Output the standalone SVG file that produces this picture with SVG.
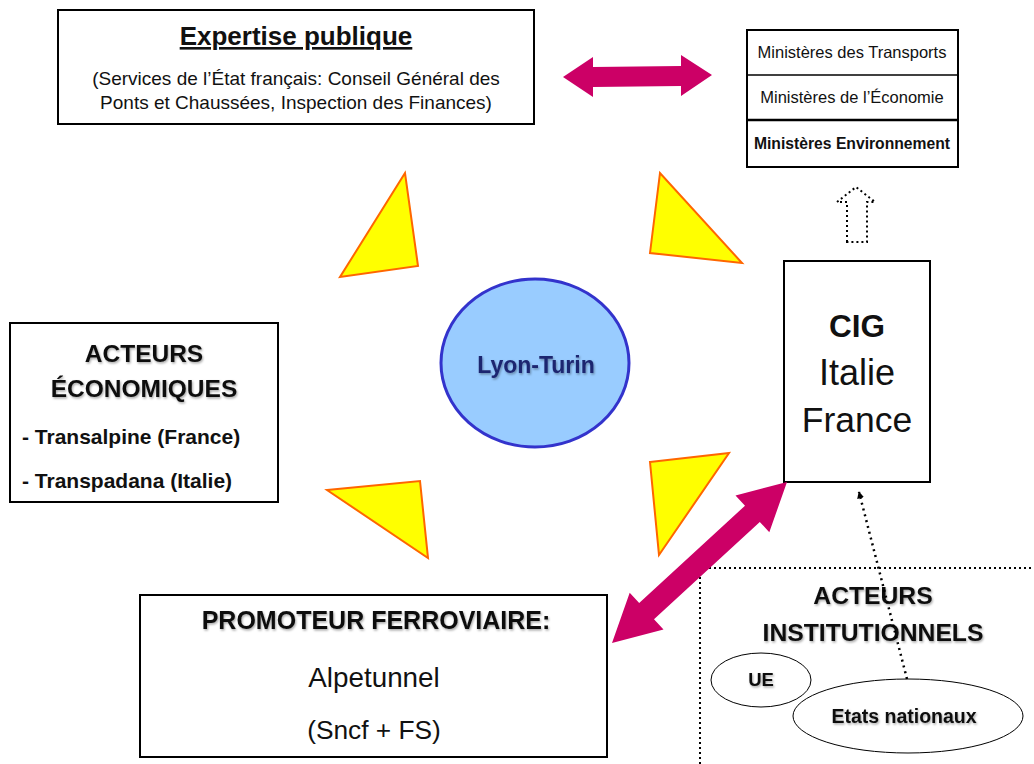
<svg xmlns="http://www.w3.org/2000/svg" width="1034" height="764" viewBox="0 0 1034 764">
<style>
text{font-family:"Liberation Sans",Arial,sans-serif;fill:#111;text-anchor:middle}
.box{fill:#fff;stroke:#000;stroke-width:2}
.b{font-weight:bold}
.sh{filter:url(#shadow)}
.tri{fill:#FFFF00;stroke:#FF6600;stroke-width:2;stroke-linejoin:miter}
.mag{fill:#CC0066;stroke:none}
.dot{fill:none;stroke:#000;stroke-width:2;stroke-dasharray:2 3}
.ell{fill:#fff;stroke:#000;stroke-width:1}
</style>
<defs>
<filter id="shadow" x="-10%" y="-30%" width="120%" height="160%">
<feDropShadow dx="1" dy="1.5" stdDeviation="1" flood-color="#000" flood-opacity="0.35"/>
</filter>
<marker id="ah" viewBox="0 0 10 10" refX="9" refY="5" markerWidth="7" markerHeight="7" markerUnits="userSpaceOnUse" orient="auto">
<path d="M0,0 L10,5 L0,10 z" fill="#000"/>
</marker>
</defs>
<rect width="1034" height="764" fill="#fff"/>

<g id="expertise">
<rect class="box" x="58" y="10" width="476" height="114"/>
<text class="b" x="296" y="45" font-size="26" text-decoration="underline">Expertise publique</text>
<text x="296" y="85" font-size="19">(Services de l’État français: Conseil Général des</text>
<text x="296" y="109" font-size="19">Ponts et Chaussées, Inspection des Finances)</text>
</g>

<g id="ministeres">
<rect class="box" x="747" y="30" width="211" height="137" stroke-width="1.5"/>
<line x1="747" y1="75" x2="958" y2="75" stroke="#000" stroke-width="1.5"/>
<line x1="747" y1="120" x2="958" y2="120" stroke="#000" stroke-width="2.5"/>
<text x="852" y="58" font-size="16.5">Ministères des Transports</text>
<text x="852" y="103" font-size="16.5">Ministères de l’Économie</text>
<text class="b" x="852" y="149" font-size="15.7">Ministères Environnement</text>
</g>

<g id="economiques">
<rect class="box" x="10" y="323" width="268" height="179"/>
<text class="b sh" x="144" y="362" font-size="24.5">ACTEURS</text>
<text class="b sh" x="144" y="397" font-size="24.5">ÉCONOMIQUES</text>
<text class="b" x="22" y="444" font-size="21" style="text-anchor:start">- Transalpine (France)</text>
<text class="b" x="22" y="488" font-size="21" style="text-anchor:start">- Transpadana (Italie)</text>
</g>

<g id="lyon-turin">
<ellipse cx="535" cy="363" rx="94" ry="84" fill="#99CCFF" stroke="#3333CC" stroke-width="3"/>
<text class="b sh" x="536" y="373" font-size="23" style="fill:#1F2670">Lyon-Turin</text>
</g>

<g id="cig">
<rect class="box" x="784" y="261" width="146" height="221"/>
<text class="b" x="857" y="337" font-size="31.5">CIG</text>
<text x="857" y="385" font-size="36">Italie</text>
<text x="857" y="432" font-size="35.5">France</text>
</g>

<g id="promoteur">
<rect class="box" x="140" y="595" width="467" height="162"/>
<text class="b sh" x="376" y="629" font-size="25">PROMOTEUR FERROVIAIRE:</text>
<text x="374" y="687" font-size="27.8">Alpetunnel</text>
<text x="374" y="739" font-size="26.3">(Sncf + FS)</text>
</g>

<g id="institutionnels">
<path class="dot" d="M700,764 L700,568 L1034,568"/>
<text class="b sh" x="873" y="604" font-size="24.7">ACTEURS</text>
<text class="b sh" x="873" y="641" font-size="24.7">INSTITUTIONNELS</text>
</g>

<g id="ue">
<ellipse class="ell" cx="761" cy="680" rx="50" ry="27"/>
<text class="b sh" x="761" y="686" font-size="18.5">UE</text>
</g>

<g id="etats">
<ellipse class="ell" cx="908" cy="716" rx="115" ry="37"/>
<text class="b sh" x="904" y="723" font-size="19.5">Etats nationaux</text>
</g>

<g id="connectors">
<polygon class="tri" points="405,173 340,277 418,266"/>
<polygon class="tri" points="660,173 650,253 742,263"/>
<polygon class="tri" points="327,490 420,481 428,558"/>
<polygon class="tri" points="650,462 729,453 659,555"/>
<polygon class="mag" points="563,77 593,57 593,67 681,66 681,55 712,75 681,96 681,86 593,87 593,97"/>
<polygon class="mag" points="787,482 769.3,532.2 759.8,521.9 654,619.3 663.5,629.6 612,643 629.7,592.8 639.2,603.1 745,505.7 735.5,495.4"/>
<path d="M847,242 L847,202 L837,202 L856,187 L875,202 L867,202 L867,242 Z" fill="#fff" stroke="#000" stroke-width="2" stroke-dasharray="2 3"/>
<line x1="907" y1="679" x2="859" y2="492" stroke="#000" stroke-width="2.5" stroke-dasharray="2 4" marker-end="url(#ah)"/>
</g>
</svg>
